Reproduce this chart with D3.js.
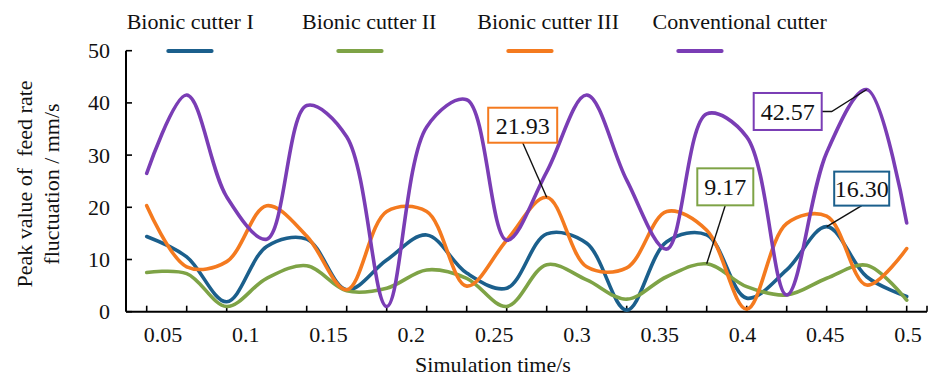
<!DOCTYPE html>
<html>
<head>
<meta charset="utf-8">
<script src="https://cdn.jsdelivr.net/npm/d3@7"></script>
<style>
  html, body { margin: 0; padding: 0; background: #fff; }
  svg text { font-family: 'Liberation Serif', 'DejaVu Serif', 'Times New Roman', serif; }
</style>
</head>
<body>
<svg id="chart" width="930" height="379"></svg>
<script>
// ---- data ----
const seriesNames = ["Bionic cutter I", "Bionic cutter II", "Bionic cutter III", "Conventional cutter"];
const seriesColors = ["#1b5f8c", "#7ea346", "#f47a1f", "#7a3db5"];
const cutterI   = [14.4, 10.5, 1.9, 12.5, 13.9, 4.2, 9.9, 14.7, 7.4, 4.5, 14.9, 13.1, 0.3, 13.4, 14.7, 2.6, 8.0, 16.30, 6.7, 2.9];
const cutterII  = [7.5, 7.3, 1.0, 6.4, 8.8, 4.0, 4.5, 8.0, 6.4, 1.0, 9.0, 6.1, 2.4, 6.7, 9.17, 4.8, 3.2, 6.4, 8.9, 2.2];
const cutterIII = [20.3, 8.6, 9.6, 20.3, 14.5, 4.2, 19.2, 19.2, 4.9, 13.7, 21.93, 8.6, 8.4, 19.2, 15.6, 0.5, 16.9, 18.3, 5.1, 12.1];
const conventional = [26.5, 41.5, 22.0, 13.9, 39.5, 33.5, 1.0, 35.4, 40.6, 13.7, 26.8, 41.5, 25.2, 12.0, 37.9, 33.5, 3.2, 30.5, 42.57, 17.0];
const allSeries = [cutterI, cutterII, cutterIII, conventional];
const xTickValues = [0.05, 0.1, 0.15, 0.2, 0.25, 0.3, 0.35, 0.4, 0.45, 0.5];
const xTickLabels = ["0.05", "0.1", "0.15", "0.2", "0.25", "0.3", "0.35", "0.4", "0.45", "0.5"];
const yTickValues = [0, 10, 20, 30, 40, 50];
// annotations: series index, sample index, label
const annSeries = [2, 3, 1, 0];
const annIndex  = [10, 18, 14, 17];
const annLabels = ["21.93", "42.57", "9.17", "16.30"];

// ---- layout ----
const FONT = "'Liberation Serif', 'DejaVu Serif', serif";
const svg = d3.select("#chart");
const axisX0 = 126, axisX1 = 927;
const yTop = 50.7, yBottom = 311.7;
const sampleIdx = d3.range(cutterI.length);
const x = d3.scalePoint().domain(sampleIdx).range([146.7, 906.7]);
const xTime = d3.scaleLinear().domain([0.04, 0.5]).range([146.5, 908]);
const y = d3.scaleLinear().domain([0, 50]).range([yBottom, yTop]);

function txt(sel) { return sel.attr("font-family", FONT).attr("fill", "#111"); }

// axes
const gx = svg.append("g").attr("transform", `translate(0,${yBottom})`);
gx.append("line").attr("x1", axisX0).attr("x2", axisX1).attr("stroke", "#000").attr("stroke-width", 2);
gx.selectAll("line.tk").data(sampleIdx.concat(["end"])).enter().append("line")
  .attr("class", "tk")
  .attr("x1", d => d === "end" ? axisX1 : x(d))
  .attr("x2", d => d === "end" ? axisX1 : x(d))
  .attr("y1", 0).attr("y2", -6).attr("stroke", "#000").attr("stroke-width", 1.6);
txt(gx.selectAll("text").data(xTickValues).enter().append("text"))
  .attr("x", d => xTime(d)).attr("y", 30)
  .attr("text-anchor", "middle").attr("font-size", 22)
  .text((d, i) => xTickLabels[i]);

const gy = svg.append("g").attr("transform", `translate(${axisX0},0)`);
gy.append("line").attr("y1", yTop).attr("y2", yBottom).attr("stroke", "#000").attr("stroke-width", 2);
gy.selectAll("line.tk").data(yTickValues).enter().append("line")
  .attr("class", "tk")
  .attr("x1", 0).attr("x2", 6).attr("y1", d => y(d)).attr("y2", d => y(d))
  .attr("stroke", "#000").attr("stroke-width", 1.6);
txt(gy.selectAll("text").data(yTickValues).enter().append("text"))
  .attr("x", -16).attr("y", d => y(d)).attr("dy", "0.34em")
  .attr("text-anchor", "end").attr("font-size", 22)
  .text(d => d);

// axis titles
txt(svg.append("text")).attr("x", 493).attr("y", 372).attr("text-anchor", "middle")
  .attr("font-size", 22).text("Simulation time/s");
const yt = svg.append("g").attr("transform", "translate(0,184) rotate(-90)");
txt(yt.append("text")).attr("x", 0).attr("y", 32).attr("text-anchor", "middle")
  .attr("font-size", 22).attr("xml:space", "preserve")
  .style("white-space", "pre").text("Peak value of  feed rate");
txt(yt.append("text")).attr("x", 0).attr("y", 59).attr("text-anchor", "middle")
  .attr("font-size", 22).text("fluctuation / mm/s");

// lines
const line = d3.line().x((d, i) => x(i)).y(d => y(d)).curve(d3.curveCatmullRom.alpha(0.5));
svg.append("g").selectAll("path").data(allSeries).enter().append("path")
  .attr("d", line).attr("fill", "none")
  .attr("stroke", (d, i) => seriesColors[i]).attr("stroke-width", 3.6)
  .attr("stroke-linejoin", "round").attr("stroke-linecap", "round");

// legend
const lg = svg.append("g");
seriesNames.forEach((name, i) => {
  txt(lg.append("text")).attr("x", 126.7 + i * 175.3).attr("y", 29)
    .attr("font-size", 22).text(name);
  lg.append("line").attr("x1", 168.3 + i * 170).attr("x2", 211.6 + i * 170)
    .attr("y1", 51).attr("y2", 51)
    .attr("stroke", seriesColors[i]).attr("stroke-width", 4).attr("stroke-linecap", "round");
});

// annotations (box offsets relative to the annotated point)
const annBox = [
  { dx: -24, dy: -72, w: 69, h: 35, lx: 0 },
  { dx: -79, dy: 22, w: 68, h: 37, lx: 1 },
  { dx: 18.6, dy: -77, w: 56, h: 37, lx: 0 },
  { dx: 35, dy: -38, w: 55, h: 34, lx: 0 }
];
const ag = svg.append("g");
annLabels.forEach((lab, j) => {
  const s = annSeries[j], k = annIndex[j];
  const px = x(k), py = y(allSeries[s][k]);
  const b = annBox[j];
  const cx = px + b.dx, cy = py + b.dy;
  if (b.lx === 1) {
    const ex = cx + b.w / 2;
    ag.append("polyline").attr("points", `${ex},${cy} ${ex + 10},${cy} ${px},${py}`)
      .attr("fill", "none").attr("stroke", "#111").attr("stroke-width", 1.4);
  } else {
    ag.append("line").attr("x1", cx).attr("y1", cy + b.h / 2).attr("x2", px).attr("y2", py)
      .attr("stroke", "#111").attr("stroke-width", 1.4);
  }
  ag.append("rect").attr("x", cx - b.w / 2).attr("y", cy - b.h / 2)
    .attr("width", b.w).attr("height", b.h).attr("fill", "#fff")
    .attr("stroke", seriesColors[s]).attr("stroke-width", 2);
  txt(ag.append("text")).attr("x", cx).attr("y", cy).attr("dy", "0.36em")
    .attr("text-anchor", "middle").attr("font-size", 24).text(lab);
});
</script>
</body>
</html>
